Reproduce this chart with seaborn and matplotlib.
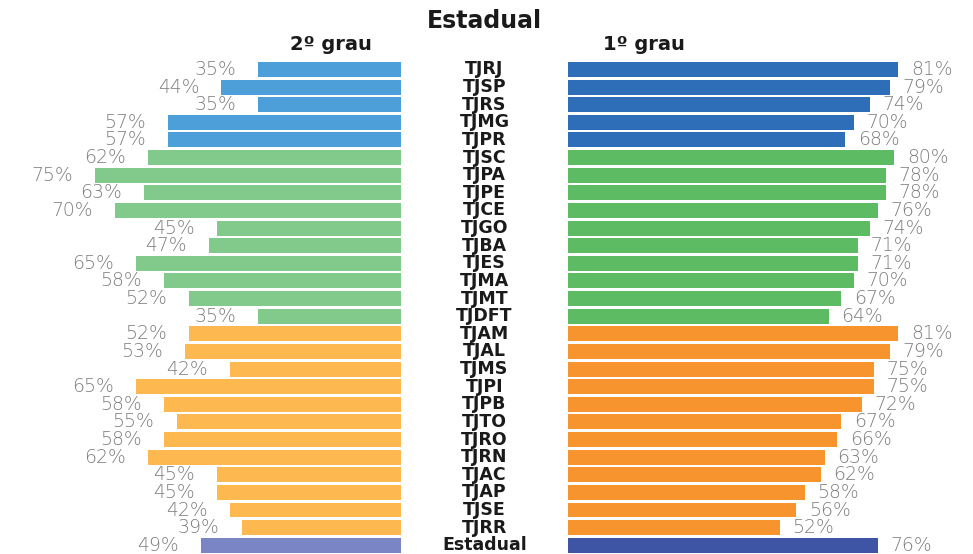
import matplotlib
matplotlib.use("Agg")
import matplotlib.pyplot as plt
import matplotlib.transforms as mtransforms
import numpy as np
import pandas as pd
import seaborn as sns

# tribunais, top to bottom
tribunais = ['TJRJ', 'TJSP', 'TJRS', 'TJMG', 'TJPR',
             'TJSC', 'TJPA', 'TJPE', 'TJCE', 'TJGO', 'TJBA', 'TJES', 'TJMA', 'TJMT', 'TJDFT',
             'TJAM', 'TJAL', 'TJMS', 'TJPI', 'TJPB', 'TJTO', 'TJRO', 'TJRN', 'TJAC', 'TJAP',
             'TJSE', 'TJRR', 'Estadual']
porte = ['grande'] * 5 + ['medio'] * 10 + ['pequeno'] * 12 + ['total']

segundo_grau = [35, 44, 35, 57, 57,
                62, 75, 63, 70, 45, 47, 65, 58, 52, 35,
                52, 53, 42, 65, 58, 55, 58, 62, 45, 45, 42, 39,
                49]
primeiro_grau = [81, 79, 74, 70, 68,
                 80, 78, 78, 76, 74, 71, 71, 70, 67, 64,
                 81, 79, 75, 75, 72, 67, 66, 63, 62, 58, 56, 52,
                 76]

cores_2g = {'grande': '#4d9fd9', 'medio': '#82c98c', 'pequeno': '#fdb94f', 'total': '#7a85c5'}
cores_1g = {'grande': '#2e6db7', 'medio': '#5cbb63', 'pequeno': '#f7942d', 'total': '#3e55a5'}

df = pd.DataFrame({'tribunal': tribunais, 'porte': porte,
                   'g2': segundo_grau, 'g1': primeiro_grau})

sns.set_style('white')
plt.rcParams['font.family'] = ['DejaVu Sans']

W, H = 973, 554
fig = plt.figure(figsize=(W / 100, H / 100), dpi=100)

px_per_pct = 4.08
row_h = 17.62
top_px = 69.5 - row_h / 2
ax_h = row_h * len(tribunais)
bottom = (H - top_px - ax_h) / H

left_edge, right_start = 401, 568
ax_l = fig.add_axes([0, bottom, left_edge / W, ax_h / H])
ax_r = fig.add_axes([right_start / W, bottom, (W - right_start) / W, ax_h / H])

sns.barplot(data=df, y='tribunal', x='g2', hue='tribunal', orient='h',
            palette=[cores_2g[p] for p in porte], width=0.85, dodge=False,
            legend=False, ax=ax_l, saturation=1, linewidth=0)
sns.barplot(data=df, y='tribunal', x='g1', hue='tribunal', orient='h',
            palette=[cores_1g[p] for p in porte], width=0.85, dodge=False,
            legend=False, ax=ax_r, saturation=1, linewidth=0)

ax_l.set_xlim(left_edge / px_per_pct, 0)
ax_r.set_xlim(0, (W - right_start) / px_per_pct)
for ax in (ax_l, ax_r):
    ax.set_ylim(len(tribunais) - 0.5, -0.5)
    ax.set_axis_off()

pct_kw = dict(fontsize=13.5, color='#7d7d7d', va='center', fontweight='light',
              textcoords='offset points', annotation_clip=False)
for i, (v2, v1) in enumerate(zip(segundo_grau, primeiro_grau)):
    ax_l.annotate(f'{v2}%', xy=(v2, i), xytext=(-16, 0), ha='right', **pct_kw)
    ax_r.annotate(f'{v1}%', xy=(v1, i), xytext=(9, 0), ha='left', **pct_kw)

trans = mtransforms.blended_transform_factory(fig.transFigure, ax_r.transData)
for i, t in enumerate(tribunais):
    ax_r.text(484.5 / W, i, t, transform=trans, ha='center', va='center',
              fontsize=12.5, fontweight='bold', color='#1a1a1a', clip_on=False)

fig.text(484 / W, 1 - 21 / H, 'Estadual', ha='center', va='center',
         fontsize=17, fontweight='bold', color='#1a1a1a')
fig.text(331 / W, 1 - 45 / H, '2º grau', ha='center', va='center',
         fontsize=14, fontweight='bold', color='#1a1a1a')
fig.text(644 / W, 1 - 45 / H, '1º grau', ha='center', va='center',
         fontsize=14, fontweight='bold', color='#1a1a1a')

fig.savefig('out.png', dpi=100)
